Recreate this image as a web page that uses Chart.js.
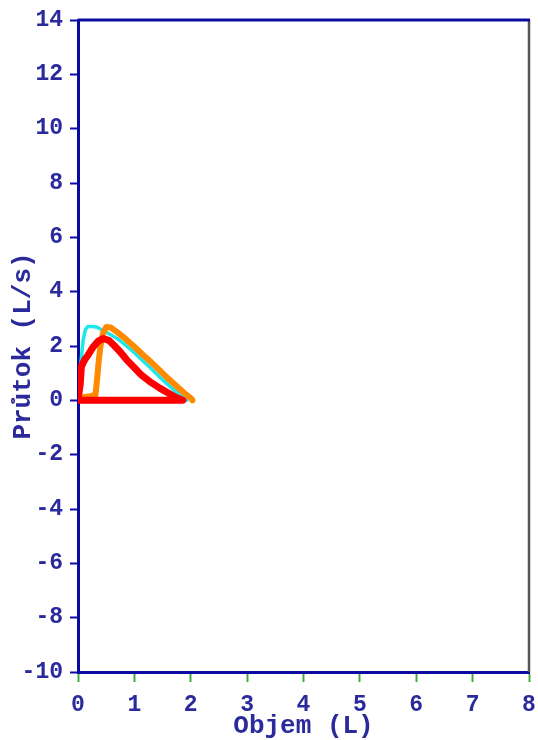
<!DOCTYPE html>
<html>
<head>
<meta charset="utf-8">
<script src="https://cdn.jsdelivr.net/npm/chart.js@4.4.0/dist/chart.umd.min.js"></script>
<style>
  html, body { margin: 0; padding: 0; background: #ffffff; }
  #wrap { width: 538px; height: 740px; }
</style>
</head>
<body>
<div id="wrap"><canvas id="c" width="538" height="740"></canvas></div>
<script>
// Flow–volume loops: volume (L) on x, flow (L/s) on y.
const redVolume  = [0.00, 0.04, 0.06, 0.12, 0.18, 0.27, 0.36, 0.45, 0.55, 0.65, 0.75, 0.86, 1.00, 1.13, 1.30, 1.45, 1.60, 1.72, 1.82, 1.86, 1.50, 1.00, 0.50, 0.00];
const redFlow    = [0.00, 0.60, 1.25, 1.50, 1.67, 1.97, 2.18, 2.28, 2.20, 2.00, 1.78, 1.50, 1.20, 0.92, 0.65, 0.45, 0.27, 0.13, 0.03, 0.00, 0.00, 0.00, 0.00, 0.00];

const orangeVolume = [0.12, 0.22, 0.31, 0.34, 0.37, 0.40, 0.44, 0.50, 0.58, 0.70, 0.85, 1.00, 1.15, 1.30, 1.45, 1.60, 1.75, 1.88, 1.97, 2.02, 2.03];
const orangeFlow   = [0.12, 0.15, 0.20, 0.80, 1.50, 2.00, 2.45, 2.70, 2.68, 2.50, 2.25, 1.97, 1.68, 1.40, 1.10, 0.80, 0.52, 0.28, 0.13, 0.04, 0.00];

const cyanVolume = [0.02, 0.05, 0.09, 0.13, 0.18, 0.25, 0.33, 0.42, 0.55, 0.70, 0.85, 1.00, 1.15, 1.30, 1.45, 1.60, 1.72, 1.83, 1.90, 1.93];
const cyanFlow   = [0.00, 1.35, 2.20, 2.60, 2.72, 2.72, 2.70, 2.60, 2.45, 2.27, 2.02, 1.75, 1.46, 1.16, 0.86, 0.57, 0.35, 0.16, 0.05, 0.00];

const xTickMin = 0, xTickMax = 8, xTickStep = 1;
const yTickMin = -10, yTickMax = 14, yTickStep = 2;
const xTitle = 'Objem (L)';
const yTitle = 'Průtok (L/s)';

const toPoints = (xs, ys) => xs.map((x, i) => ({ x: x, y: ys[i] }));

const TEXT = '#2a2a9c';
const AXIS = '#0a0aa0';
const FONT = "'Liberation Mono', 'Courier New', monospace";

// Top and right frame lines around the plot area.
const frame = {
  id: 'frame',
  afterDatasetsDraw(chart) {
    const { ctx, chartArea: a } = chart;
    ctx.save();
    ctx.lineCap = 'butt';
    ctx.strokeStyle = '#555555';
    ctx.lineWidth = 2.5;
    ctx.beginPath();
    ctx.moveTo(a.right, a.top);
    ctx.lineTo(a.right, a.bottom);
    ctx.stroke();
    ctx.strokeStyle = AXIS;
    ctx.lineWidth = 3;
    ctx.beginPath();
    ctx.moveTo(a.left, a.top);
    ctx.lineTo(a.right + 1, a.top);
    ctx.stroke();
    ctx.restore();
  }
};

const lineStyle = { showLine: true, pointRadius: 0, fill: false, tension: 0,
                    borderJoinStyle: 'round', borderCapStyle: 'round' };

new Chart(document.getElementById('c'), {
  type: 'scatter',
  data: {
    datasets: [
      Object.assign({ data: toPoints(redVolume, redFlow), borderColor: '#ff0000', borderWidth: 7 }, lineStyle),
      Object.assign({ data: toPoints(orangeVolume, orangeFlow), borderColor: '#ff8a00', borderWidth: 6 }, lineStyle),
      Object.assign({ data: toPoints(cyanVolume, cyanFlow), borderColor: '#1fe6ea', borderWidth: 3.5 }, lineStyle)
    ]
  },
  options: {
    responsive: false,
    animation: false,
    events: [],
    layout: { padding: { top: 20, right: 9, left: 0, bottom: 0 } },
    plugins: { legend: { display: false }, tooltip: { enabled: false } },
    scales: {
      x: {
        type: 'linear',
        min: xTickMin, max: xTickMax,
        afterFit(s) { s.height = 68; s.paddingLeft = 0; s.paddingRight = 0; },
        ticks: { stepSize: xTickStep, color: TEXT, padding: 9,
                 font: { family: FONT, size: 23, weight: 'bold' } },
        grid: { drawOnChartArea: false, drawTicks: true, tickLength: 10,
                tickColor: '#44aa44', tickWidth: 2 },
        border: { color: AXIS, width: 3 },
        title: { display: true, text: xTitle, color: TEXT, padding: { top: 0, bottom: -2 },
                 font: { family: FONT, size: 26, weight: 'bold' } }
      },
      y: {
        type: 'linear',
        min: yTickMin, max: yTickMax,
        afterFit(s) { s.width = 78; s.paddingTop = 0; s.paddingBottom = 0; },
        ticks: { stepSize: yTickStep, color: TEXT, padding: 7,
                 font: { family: FONT, size: 23, weight: 'bold' } },
        grid: { drawOnChartArea: false, drawTicks: true, tickLength: 8,
                tickColor: AXIS, tickWidth: 2 },
        border: { color: AXIS, width: 3 },
        title: { display: true, text: yTitle, color: TEXT, padding: { top: 8, bottom: 0 },
                 font: { family: FONT, size: 26, weight: 'bold' } }
      }
    }
  },
  plugins: [frame]
});
</script>
</body>
</html>
